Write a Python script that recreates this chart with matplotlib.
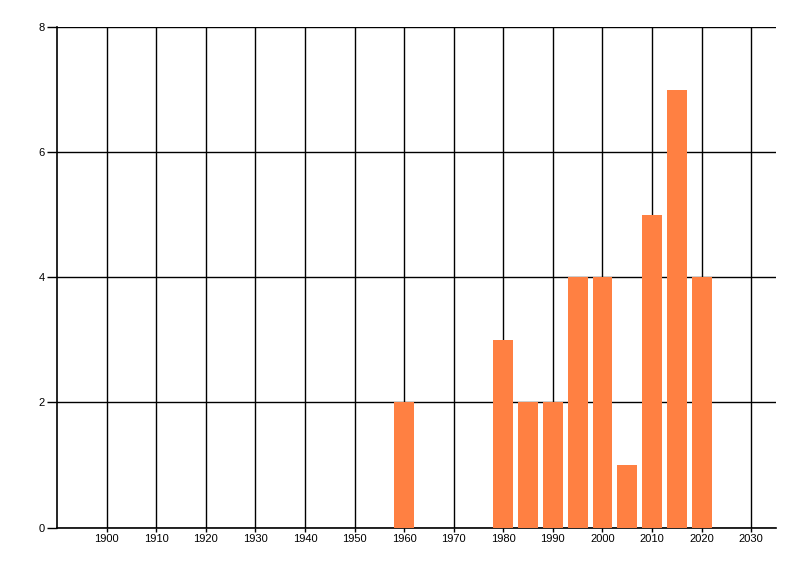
import matplotlib
matplotlib.use("Agg")
import matplotlib.pyplot as plt

# dados
years = [1960, 1980, 1985, 1990, 1995, 2000, 2005, 2010, 2015, 2020]
counts = [2, 3, 2, 2, 4, 4, 1, 5, 7, 4]
xticks = list(range(1900, 2031, 10))
yticks = [0, 2, 4, 6, 8]

plt.rcParams['font.family'] = ['Liberation Sans', 'DejaVu Sans']

fig = plt.figure(figsize=(8, 5.76), dpi=100)
ax = fig.add_axes([57 / 800, 48.5 / 576, 719 / 800, 500.5 / 576])

ax.bar(years, counts, width=4, color="#FF8042", zorder=3)

ax.set_xlim(1890, 2035)
ax.set_ylim(0, 8)
ax.set_xticks(xticks)
ax.set_yticks(yticks)
ax.grid(True, color="black", linewidth=1, zorder=1)
ax.set_axisbelow(True)

for s in ["top", "right"]:
    ax.spines[s].set_visible(False)
for s in ["left", "bottom"]:
    ax.spines[s].set_linewidth(1.2)

ax.tick_params(axis="y", length=7, width=1, labelsize=8, pad=2)
ax.tick_params(axis="x", length=3, width=1, labelsize=8, pad=2)

fig.savefig("out.png", dpi=100)
